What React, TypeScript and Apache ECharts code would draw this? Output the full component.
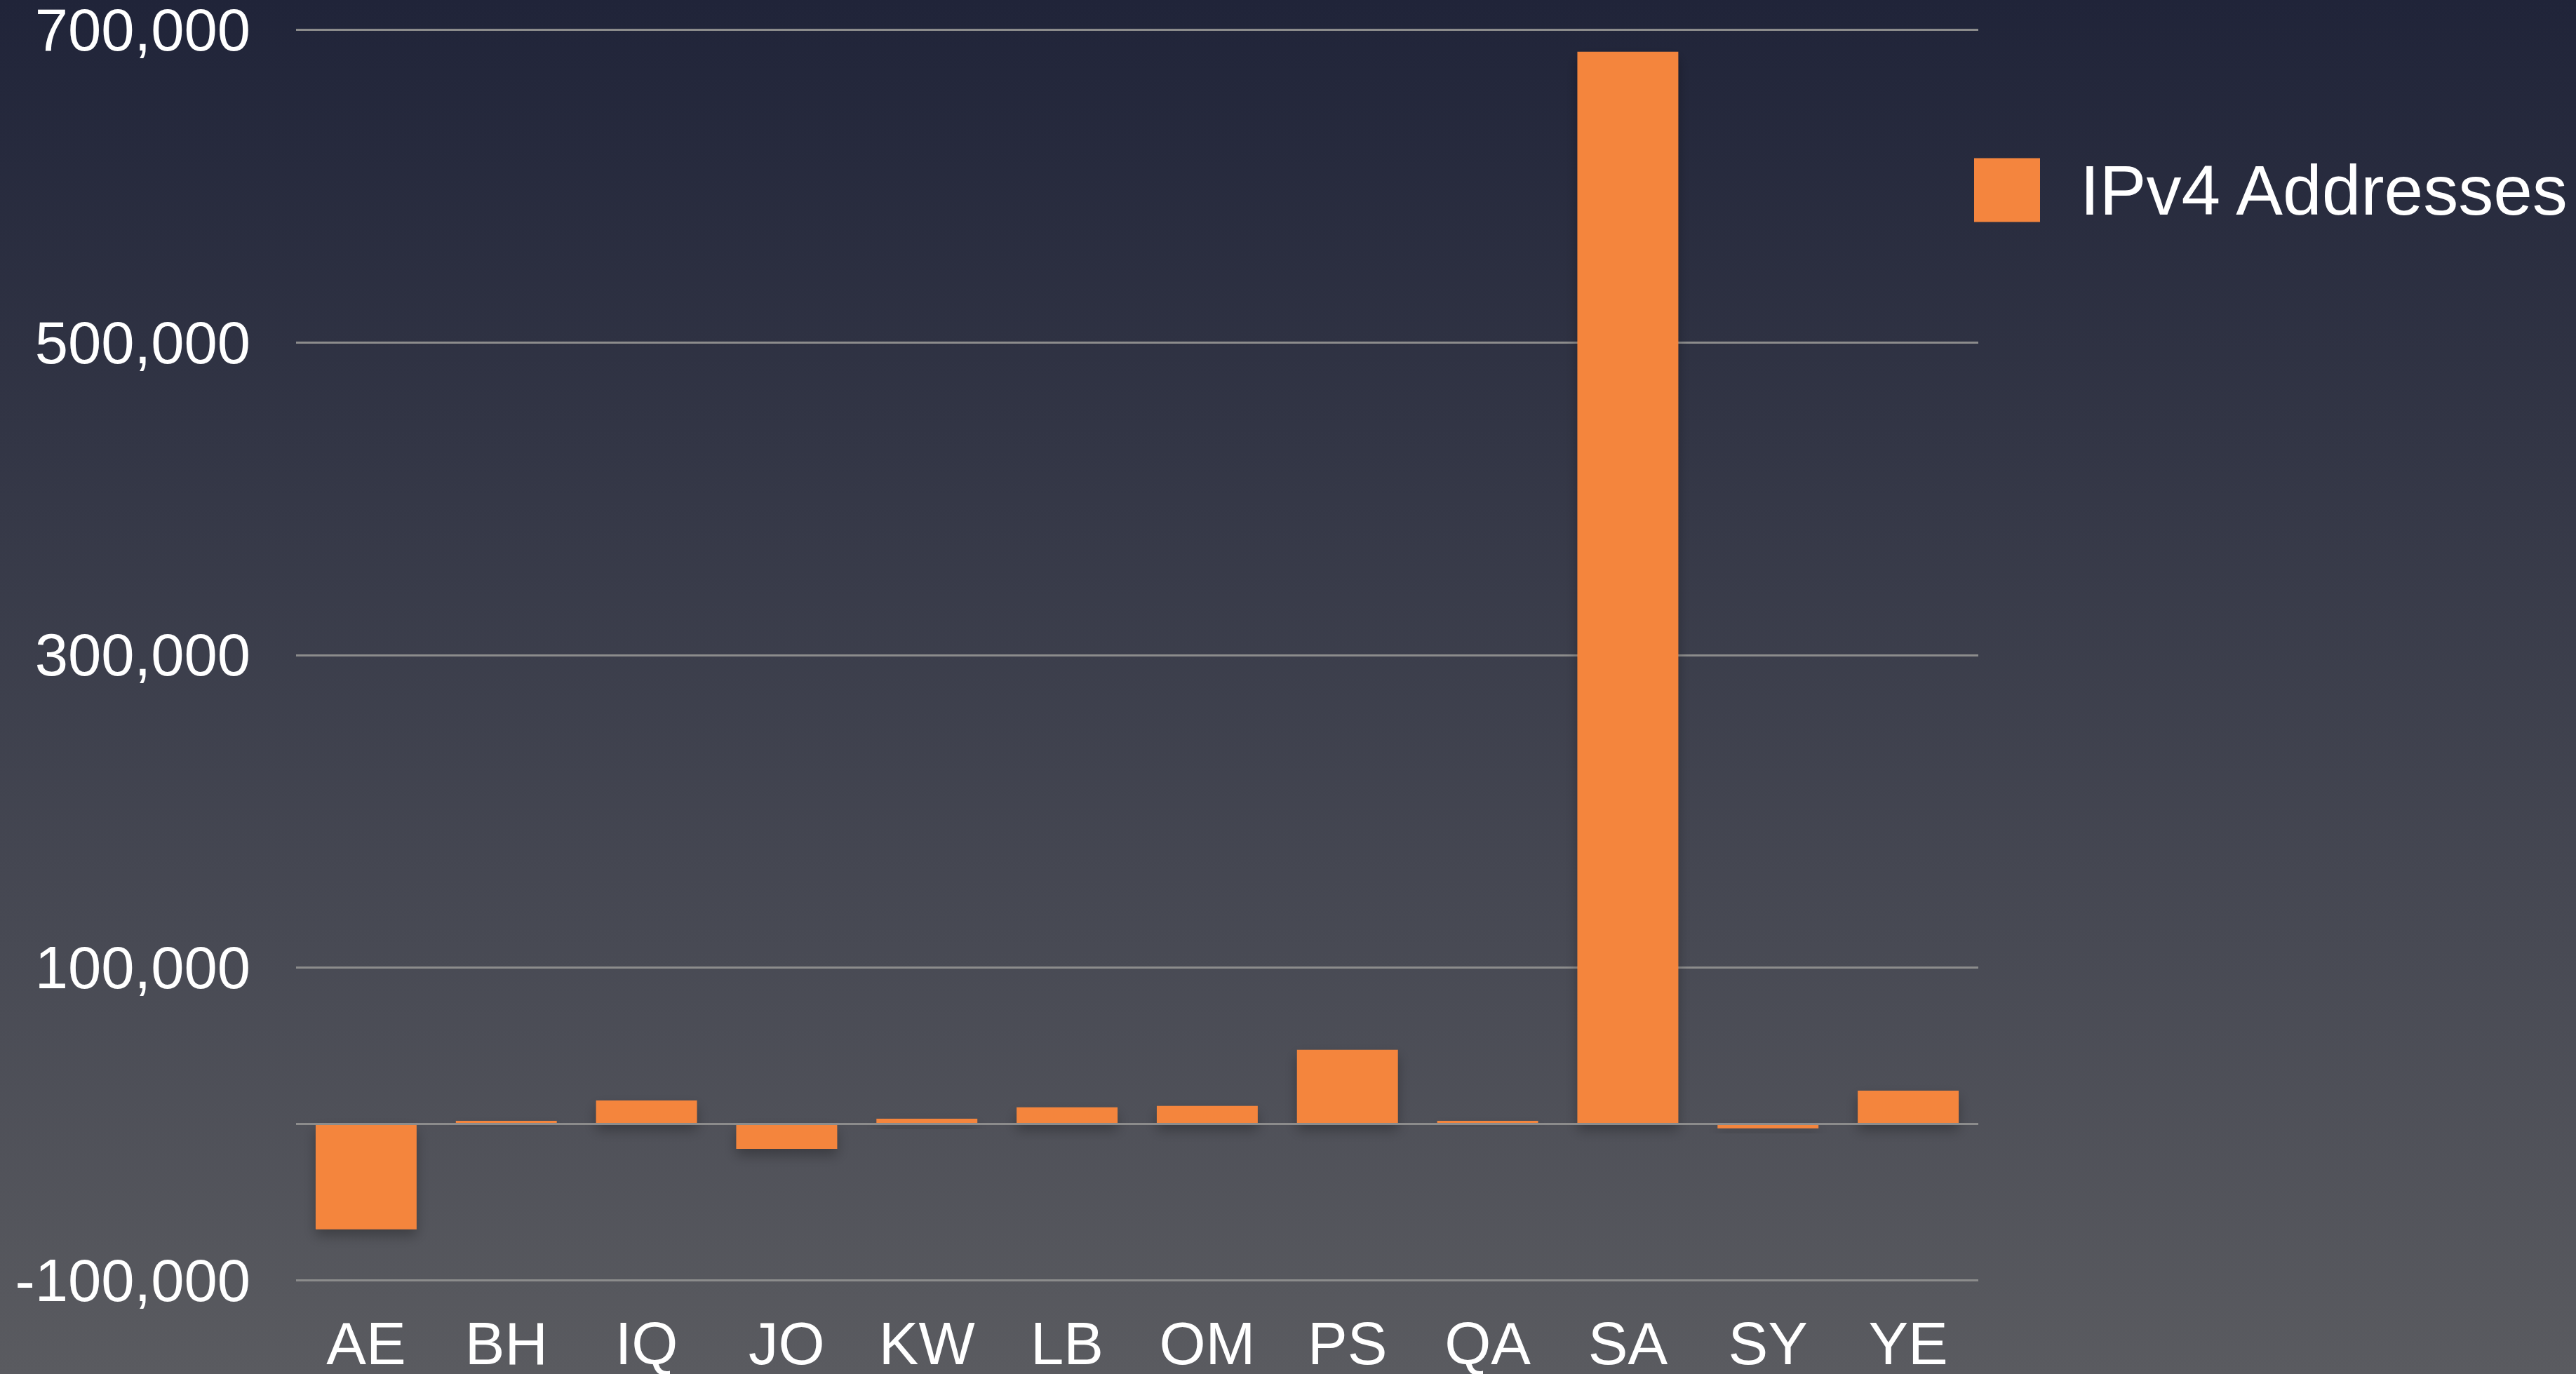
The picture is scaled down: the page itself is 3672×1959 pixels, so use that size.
import React, { useEffect, useRef } from "react";
import * as echarts from "echarts";

const categories = ["AE", "BH", "IQ", "JO", "KW", "LB", "OM", "PS", "QA", "SA", "SY", "YE"];
const ipv4Values = [-67600, 1900, 14900, -16100, 3200, 10500, 11400, 47300, 1900, 686000, -3000, 21200];
const seriesName = "IPv4 Addresses";
const yMin = -100000;
const yMax = 700000;
const yInterval = 200000;

const FONT = '"Liberation Sans", Arial, Helvetica, sans-serif';

export default function App() {
  const ref = useRef<HTMLDivElement>(null);

  useEffect(() => {
    if (!ref.current) return;
    const chart = echarts.init(ref.current, undefined, { renderer: "svg" });
    chart.setOption({
      animation: false,
      backgroundColor: {
        type: "linear",
        x: 0,
        y: 0,
        x2: 0,
        y2: 1,
        colorStops: [
          { offset: 0, color: "#202439" },
          { offset: 1, color: "#5a5b60" },
        ],
      },
      textStyle: { fontFamily: FONT },
      grid: { left: 422, right: 852, top: 42, bottom: 134, containLabel: false },
      legend: {
        show: true,
        left: 2809,
        top: 216,
        itemWidth: 94,
        itemHeight: 91,
        icon: "rect",
        data: [seriesName],
        textStyle: {
          color: "#ffffff",
          fontSize: 100,
          fontFamily: FONT,
          padding: [0, 0, 0, 52],
        },
      },
      xAxis: {
        type: "category",
        data: categories,
        axisLine: { show: false, onZero: false },
        axisTick: { show: false },
        axisLabel: { color: "#ffffff", fontSize: 85, fontFamily: FONT, margin: 48 },
        splitLine: { show: false },
      },
      yAxis: {
        type: "value",
        min: yMin,
        max: yMax,
        interval: yInterval,
        axisLine: { show: false },
        axisTick: { show: false },
        axisLabel: {
          color: "#ffffff",
          fontSize: 85,
          fontFamily: FONT,
          margin: 65,
          formatter: (v: number) => v.toLocaleString("en-US"),
        },
        splitLine: { show: true, lineStyle: { color: "#8c8c8c", width: 3 } },
      },
      series: [
        {
          name: seriesName,
          type: "bar",
          data: ipv4Values,
          barWidth: "72%",
          itemStyle: {
            color: "#f4853e",
            shadowColor: "rgba(0,0,0,0.28)",
            shadowBlur: 18,
            shadowOffsetY: 9,
          },
          markLine: {
            silent: true,
            symbol: "none",
            label: { show: false },
            lineStyle: { color: "#8c8c8c", width: 3, type: "solid" },
            data: [{ yAxis: 0 }],
          },
        },
      ],
    });
    return () => chart.dispose();
  }, []);

  return (
    <div
      ref={ref}
      style={{ position: "fixed", left: 0, top: 0, width: 3672, height: 1959 }}
    />
  );
}
